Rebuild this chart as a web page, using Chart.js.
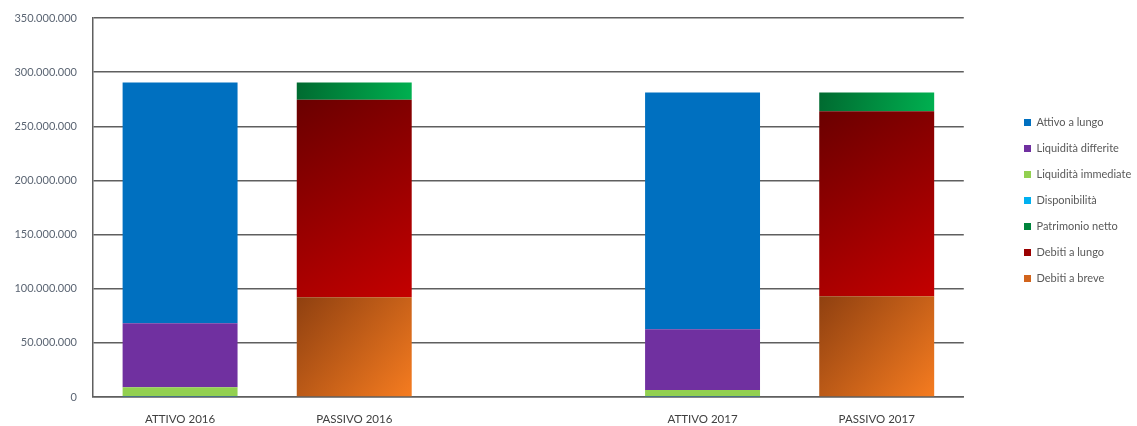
<!DOCTYPE html>
<html>
<head>
<meta charset="utf-8">
<script src="https://cdn.jsdelivr.net/npm/chart.js@4.4.1/dist/chart.umd.min.js"></script>
<style>
  html, body { margin: 0; padding: 0; background: #fff; }
</style>
</head>
<body>
<canvas id="grafico" width="1137" height="426"></canvas>
<script>
// categorie (la terza è lo spazio vuoto tra i due anni)
const categorie = ["ATTIVO 2016", "PASSIVO 2016", "", "ATTIVO 2017", "PASSIVO 2017"];

// passivo
const debitiBreve = [null, 92100000, null, null, 93000000];
const debitiLungo = [null, 182300000, null, null, 171000000];
const patrimonioNetto = [null, 16000000, null, null, 17200000];
// attivo
const disponibilita = [1000000, null, null, 1000000, null];
const liquiditaImmediate = [8000000, null, null, 5500000, null];
const liquiditaDifferite = [59100000, null, null, 56100000, null];
const attivoLungo = [222300000, null, null, 218600000, null];

const tickY = [0, 50000000, 100000000, 150000000, 200000000, 250000000, 300000000, 350000000];

const BAR_PCT = 0.66;
const FONT = 'Lato';

const formatta = (v) => String(Math.round(v)).replace(/\B(?=(\d{3})+(?!\d))/g, ".");

// sfumatura diagonale per barra (alto-sinistra -> basso-destra)
function sfumatura(c0, c1, cLegenda) {
  return (ctx) => {
    const chart = ctx.chart;
    if (!chart.chartArea || ctx.type !== 'data' || ctx.raw == null) return cLegenda;
    const xs = chart.scales.x, ys = chart.scales.y;
    const i = ctx.dataIndex, di = ctx.datasetIndex;
    let base = 0;
    for (let k = 0; k < di; k++) base += chart.data.datasets[k].data[i] || 0;
    const top = base + (chart.data.datasets[di].data[i] || 0);
    const xc = xs.getPixelForValue(i);
    const half = xs.width / chart.data.labels.length * BAR_PCT / 2;
    const g = chart.ctx.createLinearGradient(xc - half, ys.getPixelForValue(top), xc + half, ys.getPixelForValue(base));
    g.addColorStop(0, c0);
    g.addColorStop(1, c1);
    return g;
  };
}

// sposta la legenda a destra come nell'originale
const spostaLegenda = {
  id: 'spostaLegenda',
  afterLayout(chart) {
    const l = chart.legend;
    const dx = 1009 - l.left;
    l.left += dx; l.right += dx;
    const dy = 102 - l.top;
    l.top += dy; l.bottom += dy;
  }
};

const grigio = '#5f5f5f';

function disegna() {
  new Chart(document.getElementById('grafico'), {
    type: 'bar',
    data: {
      labels: categorie,
      datasets: [
        { label: "Debiti a breve", data: debitiBreve, backgroundColor: sfumatura('#8f4010', '#f67c20', '#d2641c') },
        { label: "Debiti a lungo", data: debitiLungo, backgroundColor: sfumatura('#6a0000', '#c40000', '#9a0000') },
        { label: "Patrimonio netto", data: patrimonioNetto, backgroundColor: sfumatura('#006a30', '#00b050', '#00843c') },
        { label: "Disponibilità", data: disponibilita, backgroundColor: '#00b0f0' },
        { label: "Liquidità immediate", data: liquiditaImmediate, backgroundColor: '#92d050' },
        { label: "Liquidità differite", data: liquiditaDifferite, backgroundColor: '#7030a0' },
        { label: "Attivo a lungo", data: attivoLungo, backgroundColor: '#0070c0' }
      ]
    },
    options: {
      responsive: false,
      animation: false,
      layout: { padding: { left: 13, top: 18, right: 41, bottom: 0 } },
      datasets: { bar: { categoryPercentage: 1, barPercentage: BAR_PCT } },
      plugins: {
        tooltip: { enabled: false },
        legend: {
          position: 'right',
          align: 'start',
          reverse: true,
          labels: {
            boxWidth: 7,
            boxHeight: 7,
            padding: 15,
            color: '#595959',
            font: { family: FONT, size: 11 }
          }
        }
      },
      scales: {
        x: {
          stacked: true,
          afterFit: (s) => { s.height = 29; },
          grid: { display: false, drawTicks: false },
          border: { display: true, color: grigio, width: 1.5 },
          ticks: { color: '#404040', padding: 15, font: { family: FONT, size: 11.5 } }
        },
        y: {
          stacked: true,
          min: 0,
          max: 350000000,
          afterFit: (s) => { s.width = 80; s.paddingTop = 0; s.paddingBottom = 0; },
          afterBuildTicks: (s) => { s.ticks = tickY.map(v => ({ value: v })); },
          grid: { color: grigio, lineWidth: 1.5, drawTicks: false },
          border: { display: true, color: grigio, width: 1.5 },
          ticks: {
            color: '#5b6573',
            padding: 16,
            font: { family: FONT, size: 11 },
            callback: (v) => formatta(v)
          }
        }
      }
    },
    plugins: [spostaLegenda]
  });
}

document.fonts.load('11px "' + FONT + '"').then(disegna, disegna);
</script>
</body>
</html>
